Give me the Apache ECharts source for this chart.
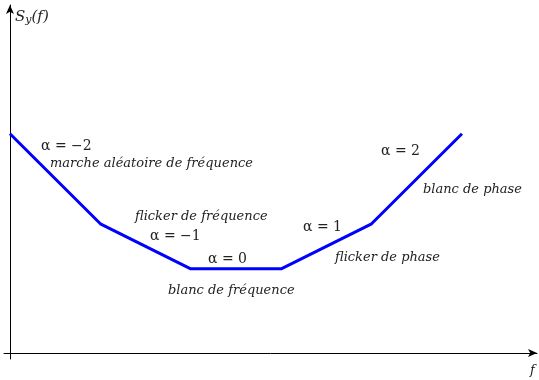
<!DOCTYPE html>
<html>
<head>
<meta charset="utf-8">
<script src="https://cdn.jsdelivr.net/npm/echarts@6/dist/echarts.min.js"></script>
<style>
  html, body { margin: 0; padding: 0; background: #fff; }
  #chart { width: 539px; height: 380px; }
</style>
</head>
<body>
<div id="chart"></div>
<script>
// log f (arbitrary units) and log S_y(f) at the break points
var logF = [0, 1, 2, 3, 4, 5];
var logS = [4.87, 2.87, 1.87, 1.87, 2.87, 4.87];

var serif = "DejaVu Serif";

function txt(x, y, s, italic, size) {
  return {
    type: "text",
    left: x,
    top: y,
    style: {
      text: s,
      fill: "#222",
      font: (italic ? "italic " : "") + (size || 13) + "px '" + serif + "'"
    }
  };
}

var chart = echarts.init(document.getElementById("chart"));
chart.setOption({
  animation: false,
  grid: { left: 4, right: 2, top: 5, bottom: 21 },
  xAxis: {
    type: "value",
    min: -0.066,
    max: 5.83,
    axisLine: {
      show: true,
      onZero: true,
      symbol: ["none", "arrow"],
      symbolSize: [6, 9],
      lineStyle: { color: "#000", width: 1 }
    },
    axisTick: { show: false },
    axisLabel: { show: false },
    splitLine: { show: false }
  },
  yAxis: {
    type: "value",
    min: -0.133,
    max: 7.73,
    axisLine: {
      show: true,
      onZero: true,
      symbol: ["none", "arrow"],
      symbolSize: [6, 9],
      lineStyle: { color: "#000", width: 1 }
    },
    axisTick: { show: false },
    axisLabel: { show: false },
    splitLine: { show: false }
  },
  series: [{
    type: "line",
    data: logF.map(function(f, i) { return [f, logS[i]]; }),
    showSymbol: false,
    lineStyle: { color: "#0000ff", width: 3 }
  }],
  graphic: [
    {
      type: "text",
      left: 15,
      top: 10,
      style: {
        rich: {
          m: { fontFamily: serif, fontStyle: "italic", fontSize: 15, fill: "#222" },
          s: { fontFamily: serif, fontStyle: "italic", fontSize: 11, fill: "#222", padding: [6, 0, 0, 0] }
        },
        text: "{m|S}{s|y}{m|(f)}"
      }
    },
    txt(530, 364, "f", true, 13),
    txt(41, 139, "α = −2", false, 14),
    txt(50, 157, "marche aléatoire de fréquence", true, 13),
    txt(135, 210, "flicker de fréquence", true, 13),
    txt(150, 229, "α = −1", false, 14),
    txt(208, 252, "α = 0", false, 14),
    txt(168, 284, "blanc de fréquence", true, 13),
    txt(303, 220, "α = 1", false, 14),
    txt(335, 251, "flicker de phase", true, 13),
    txt(381, 144, "α = 2", false, 14),
    txt(423, 183, "blanc de phase", true, 13)
  ]
});
</script>
</body>
</html>
